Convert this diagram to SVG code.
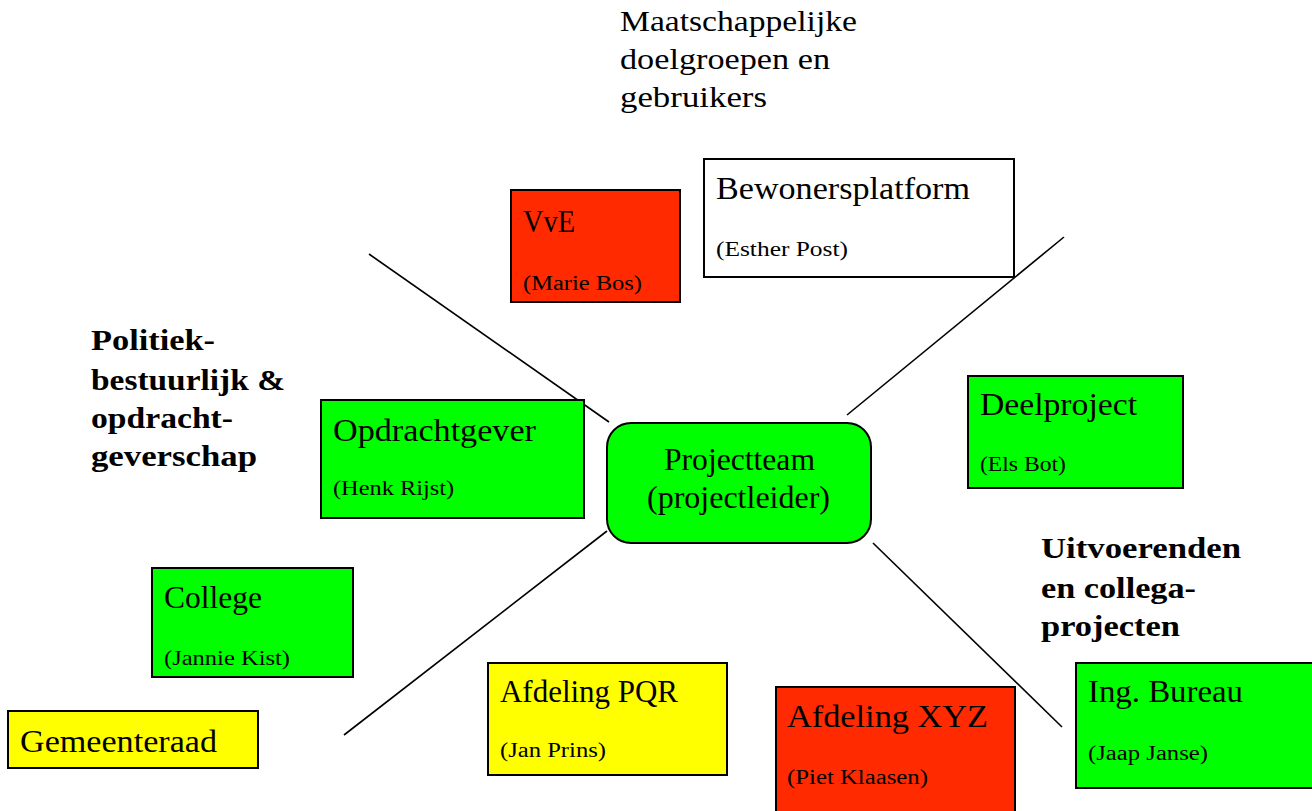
<svg xmlns="http://www.w3.org/2000/svg" width="1312" height="811" viewBox="0 0 1312 811">
<style>
.box{stroke:#000;stroke-width:2}
.g{fill:#00ff00}.y{fill:#ffff00}.r{fill:#ff2a00}.w{fill:#fff}
text{font-family:"Liberation Serif","DejaVu Serif",serif;fill:#000}
.m{font-size:31px}
.s{font-size:20px}
.t{font-size:29px}
.b{font-size:30px;font-weight:bold}
.ln{stroke:#000;stroke-width:1.6;fill:none}
</style>
<rect width="1312" height="811" fill="#fff"/>
<g id="labels">
<text class="t" x="620" y="31" textLength="237" lengthAdjust="spacingAndGlyphs">Maatschappelijke</text>
<text class="t" x="620" y="69" textLength="210" lengthAdjust="spacingAndGlyphs">doelgroepen en</text>
<text class="t" x="620" y="107" textLength="147" lengthAdjust="spacingAndGlyphs">gebruikers</text>
<text class="b" x="91" y="350" textLength="124" lengthAdjust="spacingAndGlyphs">Politiek-</text>
<text class="b" x="91" y="390" textLength="194" lengthAdjust="spacingAndGlyphs">bestuurlijk &amp;</text>
<text class="b" x="91" y="428" textLength="142" lengthAdjust="spacingAndGlyphs">opdracht-</text>
<text class="b" x="91" y="466" textLength="166" lengthAdjust="spacingAndGlyphs">geverschap</text>
<text class="b" x="1041" y="558" textLength="200" lengthAdjust="spacingAndGlyphs">Uitvoerenden</text>
<text class="b" x="1041" y="598" textLength="155" lengthAdjust="spacingAndGlyphs">en collega-</text>
<text class="b" x="1041" y="636" textLength="139" lengthAdjust="spacingAndGlyphs">projecten</text>
</g>
<g id="connectors">
<line class="ln" x1="369" y1="254" x2="609" y2="422"/>
<line class="ln" x1="1064" y1="237" x2="847" y2="415"/>
<line class="ln" x1="607" y1="531" x2="344" y2="735"/>
<line class="ln" x1="873" y1="543" x2="1062" y2="727"/>
</g>
<g id="bewonersplatform">
<rect class="box w" x="704" y="159" width="310" height="118"/>
<text class="m" x="716" y="199" textLength="254" lengthAdjust="spacingAndGlyphs">Bewonersplatform</text>
<text class="s" x="716" y="256" textLength="132" lengthAdjust="spacingAndGlyphs">(Esther Post)</text>
</g>
<g id="vve">
<rect class="box r" x="511" y="190" width="169" height="112"/>
<text class="m" x="523" y="232" textLength="52" lengthAdjust="spacingAndGlyphs">VvE</text>
<text class="s" x="523" y="290" textLength="119" lengthAdjust="spacingAndGlyphs">(Marie Bos)</text>
</g>
<g id="opdrachtgever">
<rect class="box g" x="321" y="400" width="263" height="118"/>
<text class="m" x="333" y="441" textLength="203" lengthAdjust="spacingAndGlyphs">Opdrachtgever</text>
<text class="s" x="333" y="495" textLength="121" lengthAdjust="spacingAndGlyphs">(Henk Rijst)</text>
</g>
<g id="projectteam">
<rect class="box g" x="607" y="423" width="264" height="120" rx="24"/>
<text class="m" x="664" y="470" textLength="151" lengthAdjust="spacingAndGlyphs">Projectteam</text>
<text class="m" x="647" y="508" textLength="183" lengthAdjust="spacingAndGlyphs">(projectleider)</text>
</g>
<g id="deelproject">
<rect class="box g" x="968" y="376" width="215" height="112"/>
<text class="m" x="980" y="415" textLength="157" lengthAdjust="spacingAndGlyphs">Deelproject</text>
<text class="s" x="980" y="471" textLength="86" lengthAdjust="spacingAndGlyphs">(Els Bot)</text>
</g>
<g id="ingbureau">
<rect class="box g" x="1076" y="663" width="240" height="125"/>
<text class="m" x="1088" y="702" textLength="155" lengthAdjust="spacingAndGlyphs">Ing. Bureau</text>
<text class="s" x="1088" y="760" textLength="120" lengthAdjust="spacingAndGlyphs">(Jaap Janse)</text>
</g>
<g id="afdelingxyz">
<rect class="box r" x="776" y="687" width="239" height="130"/>
<text class="m" x="787" y="727" textLength="201" lengthAdjust="spacingAndGlyphs">Afdeling XYZ</text>
<text class="s" x="787" y="784" textLength="141" lengthAdjust="spacingAndGlyphs">(Piet Klaasen)</text>
</g>
<g id="afdelingpqr">
<rect class="box y" x="488" y="663" width="239" height="112"/>
<text class="m" x="500" y="702" textLength="178" lengthAdjust="spacingAndGlyphs">Afdeling PQR</text>
<text class="s" x="500" y="757" textLength="106" lengthAdjust="spacingAndGlyphs">(Jan Prins)</text>
</g>
<g id="college">
<rect class="box g" x="152" y="568" width="201" height="109"/>
<text class="m" x="164" y="608" textLength="98" lengthAdjust="spacingAndGlyphs">College</text>
<text class="s" x="164" y="665" textLength="126" lengthAdjust="spacingAndGlyphs">(Jannie Kist)</text>
</g>
<g id="gemeenteraad">
<rect class="box y" x="8" y="711" width="250" height="57"/>
<text class="m" x="20" y="752" textLength="197" lengthAdjust="spacingAndGlyphs">Gemeenteraad</text>
</g>
</svg>
